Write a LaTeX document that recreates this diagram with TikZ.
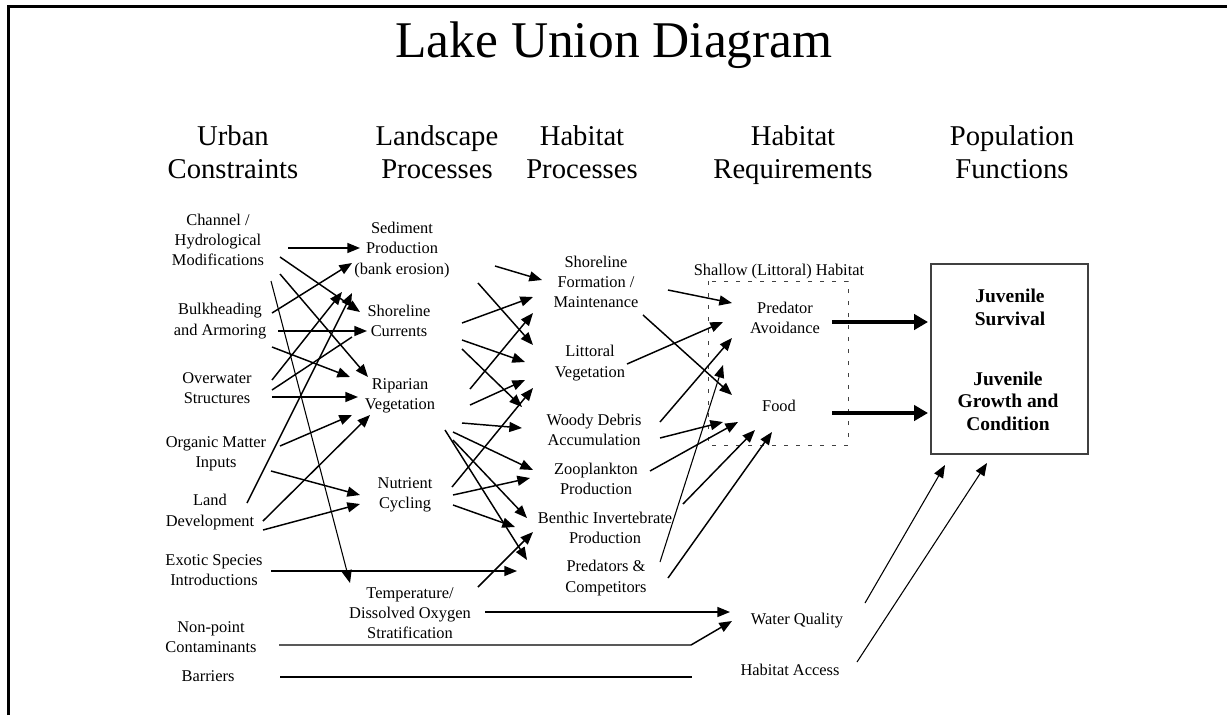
\documentclass[tikz,border=0pt]{standalone}
\usepackage{fontspec}
\setmainfont{Liberation Serif}
\usetikzlibrary{arrows.meta}
\begin{document}
\begin{tikzpicture}[x=0.75pt,y=-0.75pt,
  lbl/.style={align=center,inner sep=1pt,font=\fontsize{12.3}{15.2}\selectfont},
  hdg/.style={align=center,inner sep=0pt,anchor=north,font=\fontsize{21.5}{24.75}\selectfont},
  bold lbl/.style={align=center,inner sep=1pt,font=\fontsize{14.6}{17}\selectfont\bfseries},
  arr/.style={line width=1.1pt,-{Triangle[length=9.5pt,width=7.5pt]}},
  thinarr/.style={line width=0.8pt,-{Triangle[length=9.5pt,width=7.5pt]}},
  bigarr/.style={line width=2.6pt,-{Triangle[length=10.5pt,width=11.5pt]}},
  plainline/.style={line width=1.1pt},
  dashbox/.style={draw=black!75,line width=0.6pt,dash pattern=on 3pt off 6pt},
]
\useasboundingbox (0,0) rectangle (1227,715);
% frame
\draw[line width=1.8pt] (8.5,715) -- (8.5,6.5) -- (1227,6.5);
% title and headings
\node[anchor=base,inner sep=0pt,font=\fontsize{38.6}{46}\selectfont] (ti) at (614,57) {Lake Union Diagram};
\node[hdg] (h1) at (233,125) {Urban\\Constraints};
\node[hdg] (h2) at (437,125) {Landscape\\Processes};
\node[hdg] (h3) at (582,125) {Habitat\\Processes};
\node[hdg] (h4) at (793,125) {Habitat\\Requirements};
\node[hdg] (h5) at (1012,125) {Population\\Functions};
% column 1
\node[lbl] (ch) at (218,240) {Channel /\\Hydrological\\Modifications};
\node[lbl] (bk) at (220,321) {Bulkheading\\and Armoring};
\node[lbl] (ow) at (217,388) {Overwater\\Structures};
\node[lbl] (om) at (216,454) {Organic Matter\\Inputs};
\node[lbl] (ld) at (210,512) {Land\\Development};
\node[lbl] (ex) at (214,570) {Exotic Species\\Introductions};
\node[lbl] (np) at (211,637) {Non-point\\Contaminants};
\node[lbl] (ba) at (208,676) {Barriers};
% column 2
\node[lbl] (sed) at (402,250) {Sediment\\Production\\(bank erosion)};
\node[lbl] (cur) at (399,321) {Shoreline\\Currents};
\node[lbl] (rip) at (400,396) {Riparian\\Vegetation};
\node[lbl] (nut) at (405,495) {Nutrient\\Cycling};
\node[lbl] (tmp) at (410,613) {Temperature/\\Dissolved Oxygen\\Stratification};
% column 3
\node[lbl] (sf) at (596,282) {Shoreline\\Formation /\\Maintenance};
\node[lbl] (lv) at (590,363) {Littoral\\Vegetation};
\node[lbl] (wd) at (594,430) {Woody Debris\\Accumulation};
\node[lbl] (zp) at (596,479) {Zooplankton\\Production};
\node[lbl] (bi) at (605,528) {Benthic Invertebrate\\Production};
\node[lbl] (pc) at (606,578) {Predators \&\\Competitors};
% column 4
\draw[dashbox] (708,281) rectangle (848,445);
\node[lbl] (sh) at (779,272) {Shallow (Littoral) Habitat};
\node[lbl] (pa) at (785,318) {Predator\\Avoidance};
\node[lbl] (fd) at (779,406) {Food};
\node[lbl] (wq) at (797,621) {Water Quality};
\node[lbl] (ha) at (790,670) {Habitat Access};
% column 5
\node[draw=black!75,line width=0.8pt,minimum width=117.75pt,minimum height=142.5pt,inner sep=0pt] (pf) at (1009.5,359) {};
\node[bold lbl] (js) at (1010,307.5) {Juvenile\\Survival};
\node[bold lbl] (jg) at (1008,401) {Juvenile\\Growth and\\Condition};
% column 1 -> column 2
\draw[arr] ([shift={(70,8)}]ch.center) -- ([shift={(-42,-2)}]sed.center);
\draw[arr] ([shift={(62,17)}]ch.center) -- ([shift={(-39,-9)}]cur.center);
\draw[arr] ([shift={(62,34)}]ch.center) -- ([shift={(-32,-19)}]rip.center);
\draw[thinarr] ([shift={(53,41)}]ch.center) -- ([shift={(-60,-30)}]tmp.center);
\draw[arr] ([shift={(52,-8)}]bk.center) -- ([shift={(-50,13)}]sed.center);
\draw[arr] ([shift={(58,10)}]bk.center) -- ([shift={(-32,10)}]cur.center);
\draw[arr] ([shift={(52,26)}]bk.center) -- ([shift={(-50,-19)}]rip.center);
\draw[arr] ([shift={(55,-8)}]ow.center) -- ([shift={(-60,42)}]sed.center);
\draw[plainline] ([shift={(55,2)}]ow.center) -- ([shift={(-47,16)}]cur.center);
\draw[arr] ([shift={(55,9)}]ow.center) -- ([shift={(-42,1)}]rip.center);
\draw[arr] ([shift={(64,-8)}]om.center) -- ([shift={(-48,19)}]rip.center);
\draw[arr] ([shift={(55,17)}]om.center) -- ([shift={(-45,0)}]nut.center);
\draw[arr] ([shift={(37,-9)}]ld.center) -- ([shift={(-50,43)}]sed.center);
\draw[arr] ([shift={(53,9)}]ld.center) -- ([shift={(-30,19)}]rip.center);
\draw[arr] ([shift={(53,18)}]ld.center) -- ([shift={(-45,9)}]nut.center);
\draw[arr] ([shift={(57,1)}]ex.center) -- ([shift={(-89,-7)}]pc.center);
\draw[arr] ([shift={(68,8)}]np.center) -- ([shift={(-106,24)}]wq.center) -- ([shift={(-65,0)}]wq.center);
\draw[plainline] ([shift={(72,1)}]ba.center) -- ([shift={(-98,7)}]ha.center);
% column 2 -> column 3 / 4
\draw[arr] ([shift={(75,-1)}]tmp.center) -- ([shift={(-67,-9)}]wq.center);
\draw[arr] ([shift={(68,-26)}]tmp.center) -- ([shift={(-72,4)}]bi.center);
\draw[arr] ([shift={(93,16)}]sed.center) -- ([shift={(-54,-2)}]sf.center);
\draw[arr] ([shift={(76,33)}]sed.center) -- ([shift={(-57,-18)}]lv.center);
\draw[arr] ([shift={(63,2)}]cur.center) -- ([shift={(-63,15)}]sf.center);
\draw[arr] ([shift={(63,19)}]cur.center) -- ([shift={(-65,-1)}]lv.center);
\draw[arr] ([shift={(63,28)}]cur.center) -- ([shift={(-72,-23)}]wd.center);
\draw[arr] ([shift={(70,-7)}]rip.center) -- ([shift={(-63,31)}]sf.center);
\draw[arr] ([shift={(70,9)}]rip.center) -- ([shift={(-65,17)}]lv.center);
\draw[arr] ([shift={(62,27)}]rip.center) -- ([shift={(-72,-2)}]wd.center);
\draw[arr] ([shift={(53,36)}]rip.center) -- ([shift={(-63,-9)}]zp.center);
\draw[arr] ([shift={(53,44)}]rip.center) -- ([shift={(-78,-10)}]bi.center);
\draw[arr] ([shift={(45,34)}]rip.center) -- ([shift={(-79,-18)}]pc.center);
\draw[arr] ([shift={(47,-8)}]nut.center) -- ([shift={(-57,25)}]lv.center);
\draw[arr] ([shift={(48,0)}]nut.center) -- ([shift={(-66,-1)}]zp.center);
\draw[arr] ([shift={(48,10)}]nut.center) -- ([shift={(-90,-1)}]bi.center);
% column 3 -> column 4
\draw[arr] ([shift={(72,8)}]sf.center) -- ([shift={(-53,-15)}]pa.center);
\draw[arr] ([shift={(47,33)}]sf.center) -- ([shift={(-47,-11)}]fd.center);
\draw[arr] ([shift={(37,1)}]lv.center) -- ([shift={(-62,4)}]pa.center);
\draw[arr] ([shift={(66,-8)}]wd.center) -- ([shift={(-53,20)}]pa.center);
\draw[arr] ([shift={(66,8)}]wd.center) -- ([shift={(-56,16)}]fd.center);
\draw[arr] ([shift={(54,-8)}]zp.center) -- ([shift={(-41,16)}]fd.center);
\draw[arr] ([shift={(78,-24)}]bi.center) -- ([shift={(-24,24)}]fd.center);
\draw[thinarr] ([shift={(54,-16)}]pc.center) -- ([shift={(-62,47)}]pa.center);
\draw[arr] ([shift={(62,0)}]pc.center) -- ([shift={(-7,26)}]fd.center);
% column 4 -> column 5
\draw[bigarr] ([shift={(47,4)}]pa.center) -- ([shift={(-81.5,-37)}]pf.center);
\draw[bigarr] ([shift={(53,7)}]fd.center) -- ([shift={(-81.5,54)}]pf.center);
\draw[thinarr] ([shift={(68,-18)}]wq.center) -- ([shift={(-64.5,106)}]pf.center);
\draw[thinarr] ([shift={(67,-8)}]ha.center) -- ([shift={(-22.5,104)}]pf.center);
\end{tikzpicture}
\end{document}
